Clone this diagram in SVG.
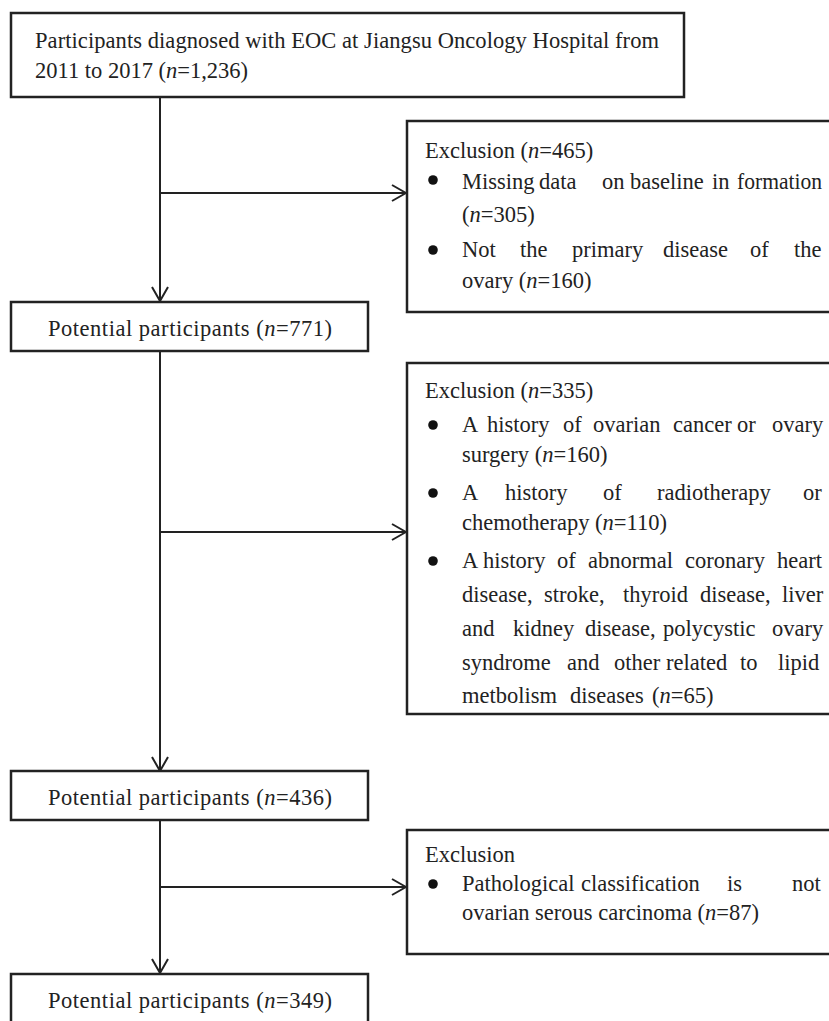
<svg xmlns="http://www.w3.org/2000/svg" width="829" height="1021" viewBox="0 0 829 1021">
<style>
.box{fill:#fff;stroke:#222;stroke-width:2.5}
.ln{fill:none;stroke:#222;stroke-width:2}
text{font-family:"Liberation Serif","Times New Roman",serif;font-size:22.5px;fill:#222}
.c{text-anchor:middle}
.it{font-style:italic}
.b{fill:#111}
</style>
<defs>
<marker id="ah" viewBox="0 0 16 18" refX="15" refY="9" markerWidth="16" markerHeight="18" markerUnits="userSpaceOnUse" orient="auto">
<path d="M1,1 L15,9 L1,17" fill="none" stroke="#222" stroke-width="2"/>
</marker>
</defs>
<rect width="829" height="1021" fill="#fff"/>
<g id="connectors">
<line class="ln" x1="160" y1="97" x2="160" y2="301" marker-end="url(#ah)"/>
<line class="ln" x1="160" y1="193" x2="406" y2="193" marker-end="url(#ah)"/>
<line class="ln" x1="160" y1="351" x2="160" y2="771" marker-end="url(#ah)"/>
<line class="ln" x1="160" y1="532" x2="406" y2="532" marker-end="url(#ah)"/>
<line class="ln" x1="160" y1="820" x2="160" y2="973" marker-end="url(#ah)"/>
<line class="ln" x1="160" y1="887" x2="406" y2="887" marker-end="url(#ah)"/>
</g>
<g id="start">
<rect class="box" x="11" y="13" width="673" height="84"/>
<text x="35" y="48" textLength="624" lengthAdjust="spacing">Participants diagnosed with EOC at Jiangsu Oncology Hospital from</text>
<text x="35" y="78">2011 to 2017 (<tspan class="it">n</tspan>=1,236)</text>
</g>
<g id="excl1">
<rect class="box" x="407" y="121" width="440" height="191"/>
<text x="425" y="158">Exclusion (<tspan class="it">n</tspan>=465)</text>
<circle class="b" cx="433" cy="180" r="4.8"/>
<text y="189"><tspan x="462">Missing</tspan><tspan x="539">data</tspan><tspan x="602">on</tspan><tspan x="630">baseline</tspan><tspan x="712">in</tspan></text>
<text x="737" y="189" textLength="85" lengthAdjust="spacingAndGlyphs">formation</text>
<text x="462" y="222">(<tspan class="it">n</tspan>=305)</text>
<circle class="b" cx="433" cy="250" r="4.8"/>
<text y="257"><tspan x="462">Not</tspan><tspan x="520">the</tspan><tspan x="572">primary</tspan><tspan x="663">disease</tspan><tspan x="750">of</tspan><tspan x="794">the</tspan></text>
<text x="462" y="288">ovary (<tspan class="it">n</tspan>=160)</text>
</g>
<g id="p771">
<rect class="box" x="11" y="302" width="357" height="49"/>
<text class="c" x="190" y="336" textLength="284" lengthAdjust="spacing">Potential participants (<tspan class="it">n</tspan>=771)</text>
</g>
<g id="excl2">
<rect class="box" x="407" y="363" width="440" height="351"/>
<text x="425" y="398">Exclusion (<tspan class="it">n</tspan>=335)</text>
<circle class="b" cx="433" cy="425" r="4.8"/>
<text y="432"><tspan x="462">A</tspan><tspan x="487">history</tspan><tspan x="563">of</tspan><tspan x="593">ovarian</tspan><tspan x="673">cancer</tspan><tspan x="737">or</tspan><tspan x="772">ovary</tspan></text>
<text x="462" y="462">surgery (<tspan class="it">n</tspan>=160)</text>
<circle class="b" cx="433" cy="493" r="4.8"/>
<text y="500"><tspan x="462">A</tspan><tspan x="505">history</tspan><tspan x="603">of</tspan><tspan x="657">radiotherapy</tspan><tspan x="803">or</tspan></text>
<text x="462" y="530">chemotherapy (<tspan class="it">n</tspan>=110)</text>
<circle class="b" cx="433" cy="561" r="4.8"/>
<text y="568"><tspan x="462">A</tspan><tspan x="483">history</tspan><tspan x="557">of</tspan><tspan x="588">abnormal</tspan><tspan x="685">coronary</tspan><tspan x="777">heart</tspan></text>
<text y="602"><tspan x="462">disease,</tspan><tspan x="544">stroke,</tspan><tspan x="623">thyroid</tspan><tspan x="700">disease,</tspan><tspan x="782">liver</tspan></text>
<text y="636"><tspan x="462">and</tspan><tspan x="513">kidney</tspan><tspan x="585">disease,</tspan><tspan x="663">polycystic</tspan><tspan x="772">ovary</tspan></text>
<text y="670"><tspan x="462">syndrome</tspan><tspan x="567">and</tspan><tspan x="614">other</tspan><tspan x="666">related</tspan><tspan x="740">to</tspan><tspan x="778">lipid</tspan></text>
<text y="703"><tspan x="462">metbolism</tspan><tspan x="570">diseases</tspan><tspan x="652">(</tspan><tspan class="it">n</tspan>=65)</text>
</g>
<g id="p436">
<rect class="box" x="11" y="771" width="357" height="49"/>
<text class="c" x="190" y="805" textLength="284" lengthAdjust="spacing">Potential participants (<tspan class="it">n</tspan>=436)</text>
</g>
<g id="excl3">
<rect class="box" x="407" y="830" width="440" height="124"/>
<text x="425" y="862">Exclusion</text>
<circle class="b" cx="433" cy="884" r="4.8"/>
<text y="891"><tspan x="462">Pathological</tspan><tspan x="581">classification</tspan><tspan x="727">is</tspan><tspan x="792">not</tspan></text>
<text x="462" y="920">ovarian serous carcinoma (<tspan class="it">n</tspan>=87)</text>
</g>
<g id="p349">
<rect class="box" x="11" y="974" width="357" height="60"/>
<text class="c" x="190" y="1008" textLength="284" lengthAdjust="spacing">Potential participants (<tspan class="it">n</tspan>=349)</text>
</g>
</svg>
